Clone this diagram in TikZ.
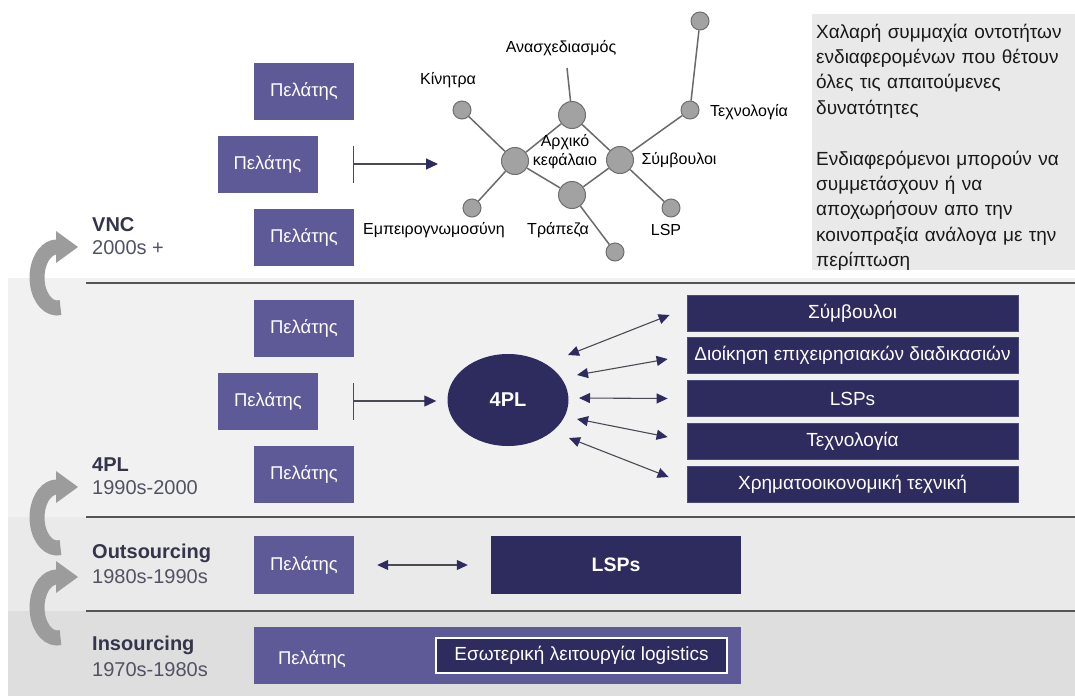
\documentclass[tikz,border=0pt]{standalone}
\usepackage{fontspec}
\setmainfont{Liberation Sans}
\usetikzlibrary{arrows.meta,calc,shapes.geometric}

\definecolor{clientfill}{HTML}{5D5A97}
\definecolor{navy}{HTML}{2E2B5E}
\definecolor{navyedge}{HTML}{4C4A7C}
\definecolor{dotfill}{HTML}{A2A2A2}
\definecolor{dotedge}{HTML}{6E6E6E}
\definecolor{linkgray}{HTML}{6A6A6A}
\definecolor{rulegray}{HTML}{555555}
\definecolor{curlgray}{HTML}{9C9C9C}
\definecolor{bandA}{HTML}{F1F1F1}
\definecolor{bandB}{HTML}{EAEAEA}
\definecolor{bandC}{HTML}{DEDEDE}
\definecolor{infogray}{HTML}{E9E9E9}
\definecolor{eratext}{HTML}{34344A}
\definecolor{shaftgray}{HTML}{4A4A55}

\newcommand{\fsz}[1]{\fontsize{#1}{#1}\selectfont}

\tikzset{
  client/.style={fill=clientfill, text=white, minimum width=100pt, minimum height=57pt,
    inner sep=0pt, font=\fsz{18.5}},
  svcbox/.style={fill=navy, draw=navyedge, line width=0.8pt, text=white,
    minimum width=331pt, minimum height=36pt, inner sep=0pt, font=\fsz{19}},
  dot/.style={circle, fill=dotfill, draw=dotedge, line width=1pt, inner sep=0pt, minimum size=18pt},
  hub/.style={dot, minimum size=27pt},
  lbl/.style={font=\fsz{16}, text=black, inner sep=0pt},
  link/.style={draw=linkgray, line width=1.5pt},
  era/.style={font=\bfseries\fsz{20}, text=eratext, anchor=west, inner sep=0pt},
  years/.style={font=\fsz{20}, text=eratext!85!white, anchor=west, inner sep=0pt},
  rulestyle/.style={draw=rulegray, line width=2pt},
  twoway/.style={draw=shaftgray, line width=1.1pt,
    {Triangle[length=11pt,width=10pt,color=navy]}-{Triangle[length=11pt,width=10pt,color=navy]}},
  feed/.style={draw=shaftgray, line width=1.2pt,
    {Bar[width=37pt]}-{Triangle[length=12pt,width=11pt,color=navy]}},
  curl/.style={draw=curlgray, line width=15pt},
  curlhead/.style={fill=curlgray}
}

\begin{document}
\begin{tikzpicture}[x=1pt,y=-1pt]
\useasboundingbox (0,0) rectangle (1075,696);
\fill[white] (0,0) rectangle (1075,696);

% era bands
\fill[bandA] (8,278) rectangle (1075,517);
\fill[bandB] (8,517) rectangle (1075,611);
\fill[bandC] (8,611) rectangle (1075,696);

% separating rules
\draw[rulestyle] (86,283) -- (1075,283);
\draw[rulestyle] (86,517) -- (1075,517);
\draw[rulestyle] (86,611) -- (1075,611);

% curved transition arrows
\foreach \yh in {247,487,577}{
  \draw[curl] (60.5,\yh+60.5) arc[start angle=80, end angle=270, x radius=20, y radius=30.5];
  \fill[curlhead] (56,\yh-16) -- (78,\yh) -- (56,\yh+16) -- cycle;
}

% era labels
\node[era]   (vnc)  at (92,225) {VNC};
\node[years] (vncy) at (92,248) {2000s +};
\node[era]   (fpll) at (92,465) {4PL};
\node[years] (fply) at (92,488) {1990s-2000};
\node[era]   (outl) at (92,553) {Outsourcing};
\node[years] (outy) at (92,577) {1980s-1990s};
\node[era]   (insl) at (92,645) {Insourcing};
\node[years] (insy) at (92,670) {1970s-1980s};

% ---------- VNC ----------
\node[client] (c1) at (304,91.5) {Πελάτης};
\node[client] (c2) at (267.5,164) {Πελάτης};
\node[client] (c3) at (304,237) {Πελάτης};

\node[dot] (kin) at (462,110) {};
\node[hub] (hl)  at (515,161) {};
\node[hub] (ht)  at (572,115) {};
\node[hub] (hr)  at (620,160) {};
\node[hub] (hb)  at (572,195) {};
\node[dot] (emp) at (472,208) {};
\node[dot] (bot) at (615,252) {};
\node[dot] (tec) at (690,110) {};
\node[dot] (top) at (700,21) {};
\node[dot] (lsp) at (671,208) {};
\coordinate (redes) at (567,68);

\draw[link] (kin) -- (hl);
\draw[link] (emp) -- (hl);
\draw[link] (hl) -- (ht);
\draw[link] (hl) -- (hb);
\draw[link] (ht) -- (hr);
\draw[link] (hb) -- (hr);
\draw[link] (ht) -- (redes);
\draw[link] (hr) -- (tec);
\draw[link] (tec) -- (top);
\draw[link] (hr) -- (lsp);
\draw[link] (hb) -- (bot);

\node[lbl] (tredes) at (561,48) {Ανασχεδιασμός};
\node[lbl] (tkin)   at (448,80) {Κίνητρα};
\node[lbl, align=center, font=\fontsize{16}{19}\selectfont] (tcap) at (565,152) {Αρχικό\\κεφάλαιο};
\node[lbl] (temp)   at (434,230) {Εμπειρογνωμοσύνη};
\node[lbl] (tbank)  at (558,230) {Τράπεζα};
\node[lbl] (tlsp)   at (666,230) {LSP};
\node[lbl] (tcons)  at (679,160) {Σύμβουλοι};
\node[lbl] (ttec)   at (749,112) {Τεχνολογία};

\draw[feed, shorten <=35pt, shorten >=63pt] (c2.east) -- (c2.east -| hl.west);

% description panel
\fill[infogray] (812,14) rectangle (1075,270);
\node[anchor=base west, inner sep=0pt, text width=258pt, align=left,
      font=\fontsize{19}{25.4}\selectfont, text=black!90] (info) at (816,38)
  {Χαλαρή συμμαχία οντοτήτων\\ ενδιαφερομένων που θέτουν\\ όλες τις απαιτούμενες\\ δυνατότητες\\[25.4pt]
   Ενδιαφερόμενοι μπορούν να\\ συμμετάσχουν ή να\\ αποχωρήσουν απο την\\ κοινοπραξία ανάλογα με την\\ περίπτωση};

% ---------- 4PL ----------
\node[client] (c4) at (304,328) {Πελάτης};
\node[client] (c5) at (268,401) {Πελάτης};
\node[client] (c6) at (304,474) {Πελάτης};

\node[ellipse, fill=navy, text=white, minimum width=121pt, minimum height=92pt,
      inner sep=0pt, font=\bfseries\fsz{20}] (fpl) at (508,400) {4PL};

\draw[feed, shorten <=35pt, shorten >=11pt] (c5.east) -- (c5.east -| fpl.west);

\node[svcbox] (r1) at (852.5,313)   {Σύμβουλοι};
\node[svcbox] (r2) at (852.5,355.5) {Διοίκηση επιχειρησιακών διαδικασιών};
\node[svcbox] (r3) at (852.5,398.5) {LSPs};
\node[svcbox] (r4) at (852.5,441)   {Τεχνολογία};
\node[svcbox] (r5) at (852.5,484)   {Χρηματοοικονομική τεχνική};

\draw[twoway] ($(fpl.center)+(60,-45)$) -- ($(r1.west)+(-17,2)$);
\draw[twoway] ($(fpl.center)+(69,-25)$) -- ($(r2.west)+(-19,3.5)$);
\draw[twoway] ($(fpl.center)+(71,-2)$)  -- ($(r3.west)+(-19,0)$);
\draw[twoway] ($(fpl.center)+(69,19)$)  -- ($(r4.west)+(-19,-4)$);
\draw[twoway] ($(fpl.center)+(61,38)$)  -- ($(r5.west)+(-18,-7)$);

% ---------- Outsourcing ----------
\node[client, minimum height=58pt] (c7) at (304,565) {Πελάτης};
\node[client, fill=navy, minimum width=250pt, minimum height=58pt, font=\bfseries\fsz{19.5}] (lsps) at (616,565) {LSPs};
\draw[twoway, shorten <=23pt, shorten >=23pt] (c7) -- (lsps);

% ---------- Insourcing ----------
\node[client, minimum width=487pt, minimum height=57pt] (ins) at (497.5,655.5) {};
\node[font=\fsz{18.5}, text=white, inner sep=0pt] (insc) at (312,659) {Πελάτης};
\node[fill=navy, draw=white, line width=1.5pt, text=white, minimum width=291pt,
      minimum height=35pt, inner sep=0pt, font=\fsz{19}] (inlog) at (581.5,655.5)
  {Εσωτερική λειτουργία logistics};
\end{tikzpicture}
\end{document}
